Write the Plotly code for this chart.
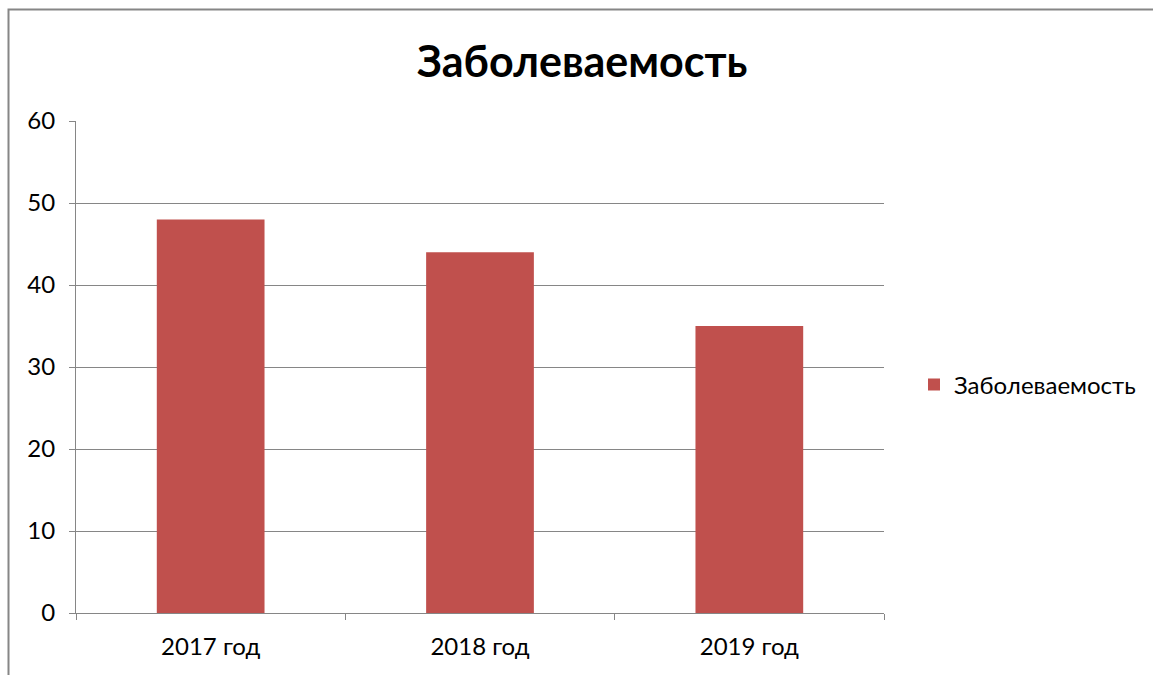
import plotly.graph_objects as go

categories = ["2017 год", "2018 год", "2019 год"]
values = [48, 44, 35]
series_name = "Заболеваемость"
title_text = "Заболеваемость"
y_ticks = [0, 10, 20, 30, 40, 50, 60]

FONT = "Lato, 'Open Sans', sans-serif"

fig = go.Figure()
fig.add_trace(go.Bar(
    x=categories, y=values, name=series_name,
    marker=dict(color="#C0504D", line=dict(width=0)),
    showlegend=True,
))

L, R, T, B = 76, 269, 121, 62
W, H = 1153, 675
pw, ph = W - L - R, H - T - B
def px_x(x):
    return (x - L) / pw
def px_y(y):
    return (H - B - y) / ph

fig.update_layout(
    width=W, height=H,
    margin=dict(l=L, r=R, t=T, b=B, pad=0),
    paper_bgcolor="white", plot_bgcolor="white",
    font=dict(family=FONT, size=24, color="black"),
    title=dict(text="<b>" + title_text + "</b>", x=0.505, xanchor="center",
               y=1 - 62 / H, yanchor="middle",
               font=dict(family=FONT, size=43, color="black")),
    bargap=0.6,
    showlegend=True,
    legend=dict(x=px_x(914), xanchor="left", y=px_y(385), yanchor="middle",
                font=dict(family=FONT, size=24, color="black"),
                itemsizing="constant", bgcolor="rgba(0,0,0,0)"),
    xaxis=dict(type="category", showline=True, linecolor="#868686", linewidth=1,
               ticks="outside", tickson="boundaries", ticklen=6, tickcolor="#868686",
               showgrid=False, tickfont=dict(family=FONT, size=24, color="black"),
               ticklabelstandoff=12),
    yaxis=dict(range=[0, 60], tickvals=y_ticks, showline=True, linecolor="#868686",
               linewidth=1, ticks="outside", ticklen=6, tickcolor="#868686",
               showgrid=True, gridcolor="#868686", gridwidth=1, zeroline=False,
               tickfont=dict(family=FONT, size=24, color="black"), ticklabelstandoff=9),
    shapes=[dict(type="path", xref="paper", yref="paper",
                 path=f"M {px_x(8.5)},{px_y(690)} L {px_x(8.5)},{px_y(9.5)} L {px_x(1170)},{px_y(9.5)}",
                 line=dict(color="#868686", width=2), layer="above")],
)

fig.write_html("out.html", config={"displayModeBar": False},
               post_script="document.body.style.margin='0';document.body.style.overflow='hidden';")
